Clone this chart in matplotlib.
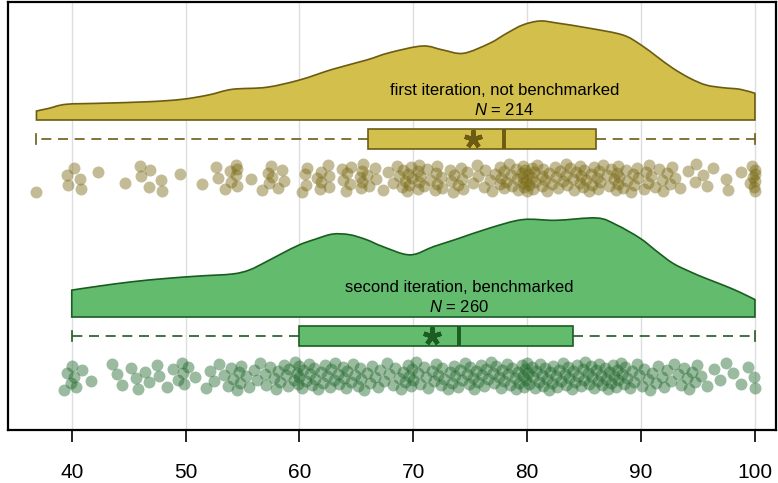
import matplotlib
matplotlib.use("Agg")
import matplotlib.pyplot as plt
from matplotlib.path import Path
from matplotlib.patches import PathPatch
import numpy as np

plt.rcParams['font.family'] = ['Liberation Sans', 'DejaVu Sans']
plt.rcParams['mathtext.fontset'] = 'custom'
plt.rcParams['mathtext.it'] = 'Liberation Sans:italic'
plt.rcParams['mathtext.rm'] = 'Liberation Sans'

# --- data ---
labels = ["first iteration, not benchmarked", "second iteration, benchmarked"]

scores_first = [
    36.9, 39.6, 39.7, 40.2, 40.7, 40.8, 42.3, 44.7, 46.0, 46.1, 46.8, 46.9, 47.8, 47.9, 49.5,
    51.4, 52.7, 52.8, 53.5, 53.9, 54.0, 54.4, 54.4, 54.5, 54.5, 55.7, 56.7, 57.2, 57.3, 57.5,
    57.6, 58.1, 58.5, 58.6,
    60.2, 60.5, 60.6, 60.7, 61.5, 61.8, 61.9, 61.9, 62.5, 62.6, 62.6, 63.7, 63.8, 64.1, 64.2,
    64.4, 64.5,
    65.3, 65.4, 65.5, 65.5, 65.6, 65.9, 66.1, 66.6, 66.7, 67.3, 67.8, 68.2, 68.6, 68.7, 69.0,
    69.1, 69.3, 69.4, 69.5, 69.6, 69.8, 69.9,
    70.4, 70.4, 70.5, 70.5, 70.6, 70.9, 71.2, 71.5, 71.9, 72.0, 72.1, 72.1, 72.4, 72.5, 73.2,
    73.3, 73.5, 73.6, 73.9, 74.2, 74.3, 74.4, 74.7,
    75.2, 75.6, 75.7, 76.2, 76.3, 76.7, 76.9, 77.2, 77.6, 77.6, 77.7, 78.0, 78.0, 78.1, 78.4,
    78.6, 78.7, 79.0, 79.1, 79.2, 79.5, 79.6, 79.6, 79.6, 79.7, 79.8, 79.9,
    80.0, 80.1, 80.2, 80.4, 80.4, 80.5, 80.6, 80.7, 80.9, 81.3, 81.3, 81.4, 81.6, 81.7, 81.9,
    82.2, 82.4, 82.5, 82.7, 82.9, 83.1, 83.4, 83.4, 83.5, 83.8, 84.0, 84.1, 84.3, 84.6, 84.6,
    84.7, 84.9,
    85.0, 85.2, 85.4, 85.6, 85.7, 85.9, 86.1, 86.2, 86.3, 86.4, 86.7, 87.0, 87.2, 87.4, 87.6,
    87.8, 87.9, 88.0, 88.0, 88.1, 88.4, 88.7, 88.8, 89.1, 89.3, 89.4, 89.6, 89.7,
    90.3, 90.4, 90.6, 90.7, 90.9, 91.2, 91.6, 91.8, 91.9, 92.3, 92.5, 92.7, 93.0, 93.4, 94.1,
    94.7, 94.8, 95.4, 95.8, 96.3, 97.5, 97.6, 98.8, 99.6, 99.7, 99.8, 99.9, 100.0, 100.0,
    100.0, 100.0,
]

scores_second = [
    39.3, 39.6, 39.9, 40.0, 40.2, 40.4, 40.9, 41.7, 43.5, 44.0, 44.4,
    45.2, 45.6, 45.8, 46.4, 46.8, 47.5, 47.7, 48.4, 48.9, 49.3, 49.7, 49.8, 49.9,
    50.2, 50.8, 51.8, 52.1, 52.5, 52.9, 53.4, 53.7, 54.0, 54.2, 54.5, 54.7, 54.8, 54.9,
    55.3, 55.6, 56.0, 56.3, 56.5, 57.0, 57.1, 57.4, 57.8, 57.9, 58.1, 58.3, 58.6, 58.8, 59.0,
    59.1, 59.5, 59.6, 59.8, 59.9,
    60.0, 60.0, 60.2, 60.3, 60.6, 60.8, 60.9, 61.1, 61.3, 61.4, 61.6, 61.9, 62.1, 62.2, 62.4,
    62.7, 62.8, 63.0, 63.1, 63.4, 63.5, 63.8, 63.9, 64.1, 64.2, 64.5, 64.7, 64.9,
    65.1, 65.3, 65.4, 65.7, 65.9, 66.2, 66.4, 66.6, 66.9, 67.1, 67.4, 67.7, 67.9, 68.2, 68.4,
    68.7, 68.9, 69.1, 69.3, 69.5, 69.6, 69.8, 69.9,
    70.0, 70.2, 70.4, 70.6, 70.9, 71.1, 71.3, 71.6, 71.8, 72.0, 72.2, 72.4, 72.5, 72.7, 73.0,
    73.2, 73.4, 73.6, 73.7, 73.9, 74.1, 74.3, 74.5, 74.7, 74.9,
    75.0, 75.2, 75.3, 75.5, 75.7, 75.9, 76.0, 76.2, 76.4, 76.6, 76.8, 77.0, 77.1, 77.3, 77.5,
    77.7, 77.8, 78.0, 78.2, 78.3, 78.5, 78.7, 78.9, 79.0, 79.2, 79.3, 79.5, 79.6, 79.7, 79.8,
    79.9,
    80.0, 80.1, 80.2, 80.4, 80.5, 80.7, 80.8, 81.0, 81.1, 81.3, 81.4, 81.6, 81.7, 81.9, 82.0,
    82.2, 82.3, 82.5, 82.6, 82.8, 83.0, 83.1, 83.3, 83.4, 83.6, 83.7, 83.9, 84.0, 84.2, 84.4,
    84.5, 84.7, 84.9,
    85.0, 85.1, 85.3, 85.4, 85.6, 85.7, 85.9, 86.0, 86.2, 86.3, 86.5, 86.6, 86.8, 86.9, 87.1,
    87.2, 87.4, 87.5, 87.6, 87.8, 87.9, 88.0, 88.2, 88.3, 88.5, 88.6, 88.8, 89.0, 89.2, 89.4,
    89.6, 89.8,
    90.1, 90.3, 90.6, 90.8, 91.0, 91.3, 91.5, 91.8, 92.0, 92.3, 92.6, 92.9, 93.2, 93.5, 93.8,
    94.0, 94.2, 94.5, 94.7, 94.9,
    95.3, 95.8, 96.4, 96.9, 97.5, 98.1, 98.8, 99.4, 99.9, 100.0,
]

# density curves (score, relative height)
dens_first_x = [36.9, 38.0, 39.5, 42.4, 46.8, 49.7, 52.0, 54.1, 57.1, 60.0, 62.9, 65.9,
                67.9, 70.8, 72.6, 74.4, 76.7, 78.2, 79.6, 81.1, 82.6, 85.5, 88.4, 90.0,
                91.4, 92.8, 94.3, 95.7, 97.2, 98.7, 100.0]
dens_first_h = [9.0, 11.7, 15.7, 16.7, 18.3, 20.7, 25.0, 30.7, 32.7, 40.0, 50.7, 60.0,
                67.3, 74.0, 70.0, 66.7, 76.7, 86.7, 95.0, 99.0, 97.0, 91.7, 85.0, 75.0,
                63.3, 51.7, 41.7, 35.0, 32.3, 30.7, 26.7]

dens_second_x = [40.0, 42.4, 45.3, 48.3, 51.2, 54.1, 55.6, 57.1, 58.5, 60.0, 61.4, 62.9,
                 64.4, 65.9, 67.3, 69.7, 71.8, 73.8, 76.7, 79.6, 82.5, 86.1, 87.8, 89.9,
                 91.4, 92.8, 94.3, 95.7, 97.2, 98.6, 100.0]
dens_second_h = [26.7, 30.7, 35.0, 38.3, 40.7, 42.7, 46.7, 55.0, 63.3, 71.7, 77.3, 82.3,
                 81.7, 76.7, 70.0, 61.7, 70.0, 77.3, 88.3, 96.7, 96.0, 98.3, 91.7, 78.3,
                 65.0, 53.3, 45.0, 38.3, 31.7, 25.0, 17.3]

# box summaries: q1, median, q3, mean, min, max
box_first = dict(q1=66.0, med=78.0, q3=86.0, mean=75.2, whislo=36.9, whishi=100.0)
box_second = dict(q1=60.0, med=74.0, q3=84.0, mean=71.6, whislo=40.0, whishi=100.0)

# --- styling / layout ---
fills = ["#D3BF4C", "#63BC6D"]
edges = ["#6B5C12", "#1A5C22"]
dots = ["#7A6A14", "#21692C"]

cloud_base = [310, 113]
box_pos = [291, 94]
dot_pos = [252, 54]
cloud_height = 99
jitter = 14


def cloud_path(xs, ys, base):
    """Closed path: smooth Bezier (Catmull-Rom) through the read points, flat base."""
    pts = np.column_stack([xs, ys])
    verts = [(xs[0], base), tuple(pts[0])]
    codes = [Path.MOVETO, Path.LINETO]
    n = len(pts)
    for i in range(n - 1):
        p0 = pts[max(i - 1, 0)]
        p1 = pts[i]
        p2 = pts[i + 1]
        p3 = pts[min(i + 2, n - 1)]
        c1 = p1 + (p2 - p0) / 6.0
        c2 = p2 - (p3 - p1) / 6.0
        verts += [tuple(c1), tuple(c2), tuple(p2)]
        codes += [Path.CURVE4] * 3
    verts += [(xs[-1], base), (xs[0], base)]
    codes += [Path.LINETO, Path.CLOSEPOLY]
    return Path(verts, codes)


fig = plt.figure(figsize=(7.78, 4.83), dpi=100)
ax = fig.add_axes([8 / 778, 53 / 483, 768 / 778, 428 / 483])

groups = [
    (scores_first, dens_first_x, dens_first_h, box_first),
    (scores_second, dens_second_x, dens_second_h, box_second),
]

for k, (scores, dx, dh, stats) in enumerate(groups):
    dx = np.array(dx)
    dh = np.array(dh)
    y = cloud_base[k] + dh / dh.max() * cloud_height
    patch = PathPatch(cloud_path(dx, y, cloud_base[k]), facecolor=fills[k],
                      edgecolor=edges[k], linewidth=1.2, zorder=2)
    ax.add_patch(patch)

    ax.text(stats['med'], cloud_base[k] + 30, labels[k], ha='center', va='center',
            fontsize=12, color='black', zorder=5)
    ax.text(stats['med'], cloud_base[k] + 10, "$N$ = %d" % len(scores), ha='center',
            va='center', fontsize=12, color='black', zorder=5)

    bs = dict(stats)
    bs['fliers'] = []
    ax.bxp([bs], positions=[box_pos[k]], widths=20, orientation='horizontal',
           patch_artist=True, showmeans=True, manage_ticks=False,
           boxprops=dict(facecolor=fills[k], edgecolor=edges[k], linewidth=1.2),
           whiskerprops=dict(color=edges[k], linewidth=1.2, linestyle=(0, (6, 4))),
           capprops=dict(color=edges[k], linewidth=1.2),
           medianprops=dict(color=edges[k], linewidth=2.8),
           meanprops=dict(marker=(5, 2, 0), markersize=13, markeredgewidth=3.2,
                          markeredgecolor=edges[k], markerfacecolor=edges[k]),
           zorder=3)

    n = len(scores)
    offs = np.array([((i * 0.6180339887) % 1.0) - 0.5 for i in range(n)]) * 2 * jitter
    ax.scatter(scores, dot_pos[k] + offs, s=74, color=dots[k], alpha=0.45,
               linewidths=0, zorder=4)

ax.set_xlim(34.4, 101.85)
ax.set_ylim(0, 428)
ax.set_xticks([40, 50, 60, 70, 80, 90, 100])
ax.set_yticks([])
ax.grid(axis='x', color='#dedede', linewidth=1.0, zorder=0)
ax.set_axisbelow(True)
ax.tick_params(axis='x', length=8.5, width=1.2, labelsize=15, pad=15, direction='out')
for sp in ax.spines.values():
    sp.set_linewidth(1.6)
    sp.set_color('black')

fig.savefig("out.png", dpi=100)
